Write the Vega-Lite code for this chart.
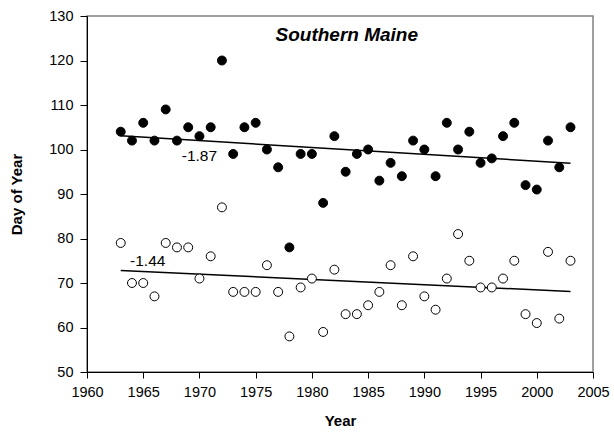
{
  "$schema": "https://vega.github.io/schema/vega-lite/v6.json",
  "width": 506,
  "height": 356,
  "autosize": "none",
  "padding": {"left": 87, "top": 16, "right": 21, "bottom": 61},
  "background": "white",
  "config": {
    "font": "Liberation Sans",
    "view": {"stroke": "#808080", "strokeWidth": 1.5},
    "axis": {
      "grid": false,
      "domainColor": "black",
      "tickColor": "black",
      "labelColor": "black",
      "titleColor": "black",
      "labelFont": "Liberation Sans",
      "titleFont": "Liberation Sans",
      "labelFontSize": 14.5,
      "titleFontSize": 15,
      "titleFontWeight": "bold",
      "labelFontWeight": "normal"
    }
  },
  "datasets": {
    "pts": [
      {"year": 1963, "day": 104, "type": "filled"},
      {"year": 1964, "day": 102, "type": "filled"},
      {"year": 1965, "day": 106, "type": "filled"},
      {"year": 1966, "day": 102, "type": "filled"},
      {"year": 1967, "day": 109, "type": "filled"},
      {"year": 1968, "day": 102, "type": "filled"},
      {"year": 1969, "day": 105, "type": "filled"},
      {"year": 1970, "day": 103, "type": "filled"},
      {"year": 1971, "day": 105, "type": "filled"},
      {"year": 1972, "day": 120, "type": "filled"},
      {"year": 1973, "day": 99, "type": "filled"},
      {"year": 1974, "day": 105, "type": "filled"},
      {"year": 1975, "day": 106, "type": "filled"},
      {"year": 1976, "day": 100, "type": "filled"},
      {"year": 1977, "day": 96, "type": "filled"},
      {"year": 1978, "day": 78, "type": "filled"},
      {"year": 1979, "day": 99, "type": "filled"},
      {"year": 1980, "day": 99, "type": "filled"},
      {"year": 1981, "day": 88, "type": "filled"},
      {"year": 1982, "day": 103, "type": "filled"},
      {"year": 1983, "day": 95, "type": "filled"},
      {"year": 1984, "day": 99, "type": "filled"},
      {"year": 1985, "day": 100, "type": "filled"},
      {"year": 1986, "day": 93, "type": "filled"},
      {"year": 1987, "day": 97, "type": "filled"},
      {"year": 1988, "day": 94, "type": "filled"},
      {"year": 1989, "day": 102, "type": "filled"},
      {"year": 1990, "day": 100, "type": "filled"},
      {"year": 1991, "day": 94, "type": "filled"},
      {"year": 1992, "day": 106, "type": "filled"},
      {"year": 1993, "day": 100, "type": "filled"},
      {"year": 1994, "day": 104, "type": "filled"},
      {"year": 1995, "day": 97, "type": "filled"},
      {"year": 1996, "day": 98, "type": "filled"},
      {"year": 1997, "day": 103, "type": "filled"},
      {"year": 1998, "day": 106, "type": "filled"},
      {"year": 1999, "day": 92, "type": "filled"},
      {"year": 2000, "day": 91, "type": "filled"},
      {"year": 2001, "day": 102, "type": "filled"},
      {"year": 2002, "day": 96, "type": "filled"},
      {"year": 2003, "day": 105, "type": "filled"},
      {"year": 1963, "day": 79, "type": "open"},
      {"year": 1964, "day": 70, "type": "open"},
      {"year": 1965, "day": 70, "type": "open"},
      {"year": 1966, "day": 67, "type": "open"},
      {"year": 1967, "day": 79, "type": "open"},
      {"year": 1968, "day": 78, "type": "open"},
      {"year": 1969, "day": 78, "type": "open"},
      {"year": 1970, "day": 71, "type": "open"},
      {"year": 1971, "day": 76, "type": "open"},
      {"year": 1972, "day": 87, "type": "open"},
      {"year": 1973, "day": 68, "type": "open"},
      {"year": 1974, "day": 68, "type": "open"},
      {"year": 1975, "day": 68, "type": "open"},
      {"year": 1976, "day": 74, "type": "open"},
      {"year": 1977, "day": 68, "type": "open"},
      {"year": 1978, "day": 58, "type": "open"},
      {"year": 1979, "day": 69, "type": "open"},
      {"year": 1980, "day": 71, "type": "open"},
      {"year": 1981, "day": 59, "type": "open"},
      {"year": 1982, "day": 73, "type": "open"},
      {"year": 1983, "day": 63, "type": "open"},
      {"year": 1984, "day": 63, "type": "open"},
      {"year": 1985, "day": 65, "type": "open"},
      {"year": 1986, "day": 68, "type": "open"},
      {"year": 1987, "day": 74, "type": "open"},
      {"year": 1988, "day": 65, "type": "open"},
      {"year": 1989, "day": 76, "type": "open"},
      {"year": 1990, "day": 67, "type": "open"},
      {"year": 1991, "day": 64, "type": "open"},
      {"year": 1992, "day": 71, "type": "open"},
      {"year": 1993, "day": 81, "type": "open"},
      {"year": 1994, "day": 75, "type": "open"},
      {"year": 1995, "day": 69, "type": "open"},
      {"year": 1996, "day": 69, "type": "open"},
      {"year": 1997, "day": 71, "type": "open"},
      {"year": 1998, "day": 75, "type": "open"},
      {"year": 1999, "day": 63, "type": "open"},
      {"year": 2000, "day": 61, "type": "open"},
      {"year": 2001, "day": 77, "type": "open"},
      {"year": 2002, "day": 62, "type": "open"},
      {"year": 2003, "day": 75, "type": "open"}
    ],
    "trend": [
      {"year": 1963, "day": 103.1, "type": "filled"},
      {"year": 2003, "day": 96.9, "type": "filled"},
      {"year": 1963, "day": 72.8, "type": "open"},
      {"year": 2003, "day": 68.1, "type": "open"}
    ],
    "labels": [
      {"year": 1970, "day": 98.5, "label": "-1.87"},
      {"year": 1965.4, "day": 74.9, "label": "-1.44"}
    ],
    "heading": [
      {"year": 1983.1, "day": 125.8, "label": "Southern Maine"}
    ]
  },
  "encoding": {
    "x": {
      "field": "year",
      "type": "quantitative",
      "title": "Year",
      "scale": {"domain": [1960, 2005], "nice": false, "zero": false},
      "axis": {"values": [1960, 1965, 1970, 1975, 1980, 1985, 1990, 1995, 2000, 2005], "format": "d", "tickSize": 6, "labelPadding": 7, "titlePadding": 15, "labelFlush": false}
    },
    "y": {
      "field": "day",
      "type": "quantitative",
      "title": "Day of Year",
      "scale": {"domain": [50, 130], "nice": false, "zero": false},
      "axis": {"values": [50, 60, 70, 80, 90, 100, 110, 120, 130], "tickSize": 7, "labelPadding": 7, "titlePadding": 24, "labelFlush": false}
    }
  },
  "layer": [
    {
      "data": {"name": "trend"},
      "mark": {"type": "line", "color": "black", "strokeWidth": 1.5},
      "encoding": {"detail": {"field": "type"}}
    },
    {
      "data": {"name": "pts"},
      "mark": {"type": "point", "shape": "circle", "size": 80, "stroke": "black", "strokeWidth": 1, "opacity": 1},
      "encoding": {
        "fill": {"field": "type", "type": "nominal", "scale": {"domain": ["filled", "open"], "range": ["black", "white"]}, "legend": null}
      }
    },
    {
      "data": {"name": "labels"},
      "mark": {"type": "text", "fontSize": 15.5, "color": "black", "align": "center", "baseline": "middle"},
      "encoding": {"text": {"field": "label"}}
    },
    {
      "data": {"name": "heading"},
      "mark": {"type": "text", "fontSize": 19, "fontWeight": "bold", "fontStyle": "italic", "color": "black", "align": "center", "baseline": "middle"},
      "encoding": {"text": {"field": "label"}}
    }
  ]
}
